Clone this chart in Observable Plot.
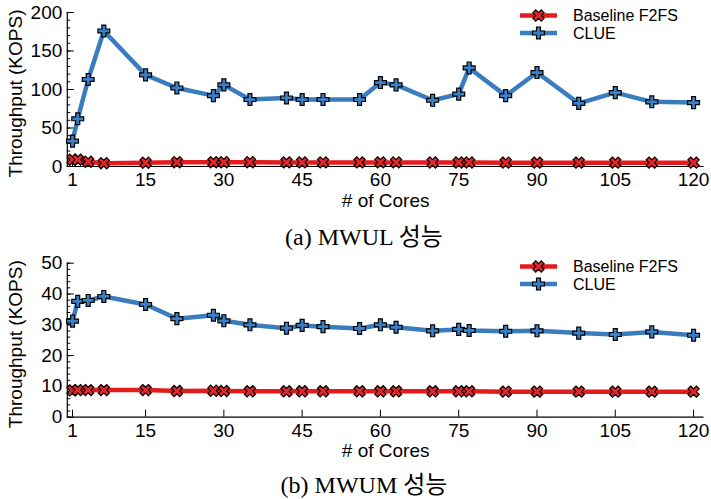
<!DOCTYPE html>
<html>
<head>
<meta charset="utf-8">
<script src="https://cdn.jsdelivr.net/npm/d3@7"></script>
<script src="https://cdn.jsdelivr.net/npm/@observablehq/plot@0.6"></script>
<style>
  html, body { margin: 0; padding: 0; background: #fff; }
  #wrap { position: relative; width: 711px; height: 499px; overflow: hidden; }
  .panel { position: absolute; left: 0; }
  .caption { position: absolute; left: 214px; width: 300px; text-align: center;
    font-family: "Liberation Serif", "Times New Roman", "Noto Sans CJK KR", serif;
    font-size: 24px; line-height: 26px; color: #000; }
  .legend { position: absolute; left: 505px; }
</style>
</head>
<body>
<div id="wrap"></div>
<script>
// ---- data ----
const cores = [1, 2, 4, 7, 15, 21, 28, 30, 35, 42, 45, 49, 56, 60, 63, 70, 75, 77, 84, 90, 98, 105, 112, 120];
const mwulBaseline = [8.7, 8.9, 6.1, 4.3, 4.8, 5.6, 5.6, 5.6, 5.6, 5.3, 5.3, 5.3, 5.3, 5.3, 5.3, 5.2, 5.2, 5.2, 5, 5, 5, 5, 5, 5];
const mwulClue = [33, 62, 113, 176, 119, 102, 92, 106, 87, 89, 87, 87, 87, 109, 106, 86, 94, 128, 92, 122, 82, 96, 84, 83];
const mwumBaseline = [8.7, 8.8, 8.8, 8.8, 8.8, 8.5, 8.6, 8.5, 8.4, 8.4, 8.4, 8.4, 8.4, 8.4, 8.4, 8.4, 8.4, 8.4, 8.3, 8.3, 8.3, 8.3, 8.3, 8.3];
const mwumClue = [31.2, 37.6, 37.9, 39.2, 36.6, 32.0, 33.1, 31.3, 30.0, 28.9, 29.8, 29.4, 28.8, 30.0, 29.2, 28.05, 28.5, 28.15, 27.9, 28.05, 27.3, 26.85, 27.7, 26.6];
const xTicks = [1, 15, 30, 45, 60, 75, 90, 105, 120];
const yTicksTop = [0, 50, 100, 150, 200];
const yTicksBottom = [0, 10, 20, 30, 40, 50];
const seriesNames = ["Baseline F2FS", "CLUE"];
const captions = ["(a) MWUL 성능", "(b) MWUM 성능"];
const xLabel = "# of Cores";
const yLabel = "Throughput (KOPS)";

// ---- styles ----
const RED_LINE = "#e41a1c", RED_FILL = "#e8262a";
const BLUE_LINE = "#3a7dbf", BLUE_FILL = "#3b80c6";

// thick "x" symbol (rotated cross) with outline
const symbolX = {
  draw(ctx, size) {
    const r = Math.sqrt(size / 5) / 2;
    const pts = [[-3*r,-r],[-r,-r],[-r,-3*r],[r,-3*r],[r,-r],[3*r,-r],[3*r,r],[r,r],[r,3*r],[-r,3*r],[-r,r],[-3*r,r]];
    const c = Math.SQRT1_2;
    pts.forEach(([x, y], i) => {
      const X = (x - y) * c, Y = (x + y) * c;
      i ? ctx.lineTo(X, Y) : ctx.moveTo(X, Y);
    });
    ctx.closePath();
  }
};

function makePanel(baseline, clue, yMax, yTicks, minorStep, marginTop, marginBottom) {
  const base = cores.map((c, i) => ({x: c, y: baseline[i]}));
  const cl = cores.map((c, i) => ({x: c, y: clue[i]}));
  const minor = d3.range(0, yMax + 1e-9, minorStep);
  return Plot.plot({
    width: 711, height: 215,
    marginLeft: 66.8, marginRight: 7.5, marginTop, marginBottom,
    x: {domain: [0, 122]},
    y: {domain: [0, yMax]},
    style: {fontFamily: "'Liberation Sans', Arial, Helvetica, sans-serif", fontSize: "19px", color: "#000", background: "transparent", overflow: "visible"},
    marks: [
      Plot.axisY(minor, {tickSize: -3.5, tickFormat: () => "", label: null, strokeWidth: 1}),
      Plot.axisY(yTicks, {tickSize: -7, tickPadding: 12, label: null, fontSize: 19, strokeWidth: 1}),
      Plot.axisX(xTicks, {tickSize: -7, tickPadding: 13, label: null, fontSize: 19, strokeWidth: 1}),
      Plot.ruleX([0], {stroke: "#000", strokeWidth: 1.2}),
      Plot.ruleY([0], {stroke: "#000", strokeWidth: 1.2}),
      Plot.line(base, {x: "x", y: "y", stroke: RED_LINE, strokeWidth: 4.5}),
      Plot.line(cl, {x: "x", y: "y", stroke: BLUE_LINE, strokeWidth: 4.5}),
      Plot.dot(base, {x: "x", y: "y", symbol: symbolX, r: 5, fill: RED_FILL, stroke: "#000", strokeWidth: 1.2}),
      Plot.dot(cl, {x: "x", y: "y", symbol: "cross", r: 5, fill: BLUE_FILL, stroke: "#000", strokeWidth: 1.2}),
      Plot.text([yLabel], {text: d => d, frameAnchor: "left", textAnchor: "middle", lineAnchor: "middle", rotate: -90, dx: -51, dy: 4, fontSize: 19}),
      Plot.text([xLabel], {text: d => d, frameAnchor: "bottom", textAnchor: "middle", lineAnchor: "middle", dy: 34, fontSize: 19})
    ]
  });
}

function makeLegend() {
  const svg = d3.create("svg").attr("width", 206).attr("height", 45);
  const rows = [
    {name: seriesNames[0], line: RED_LINE, fill: RED_FILL, sym: symbolX, y: 15.5},
    {name: seriesNames[1], line: BLUE_LINE, fill: BLUE_FILL, sym: d3.symbolCross, y: 33}
  ];
  const size = Math.PI * 25;
  for (const r of rows) {
    svg.append("line").attr("x1", 15).attr("x2", 52).attr("y1", r.y).attr("y2", r.y)
      .attr("stroke", r.line).attr("stroke-width", 4.5);
    svg.append("path").attr("d", d3.symbol(r.sym, size)())
      .attr("transform", `translate(33.5,${r.y})`)
      .attr("fill", r.fill).attr("stroke", "#000").attr("stroke-width", 1.2);
    svg.append("text").attr("x", 68).attr("y", r.y).attr("dy", "0.35em")
      .attr("font-family", "'Liberation Sans', Arial, Helvetica, sans-serif")
      .attr("font-size", 16).text(r.name);
  }
  return svg.node();
}

const wrap = document.getElementById("wrap");
function place(node, cls, top) {
  const d = document.createElement("div");
  d.className = cls;
  d.style.top = top + "px";
  d.appendChild(node);
  wrap.appendChild(d);
}
function caption(text, top) {
  const d = document.createElement("div");
  d.className = "caption";
  d.style.top = top + "px";
  d.textContent = text;
  wrap.appendChild(d);
}

place(makePanel(mwulBaseline, mwulClue, 200, yTicksTop, 10, 12, 49), "panel", 0);
place(makeLegend(), "legend", 0);
caption(captions[0], 224);
place(makePanel(mwumBaseline, mwumClue, 50, yTicksBottom, 2, 12.7, 48.3), "panel", 250);
place(makeLegend(), "legend", 251);
caption(captions[1], 472);
</script>
</body>
</html>
